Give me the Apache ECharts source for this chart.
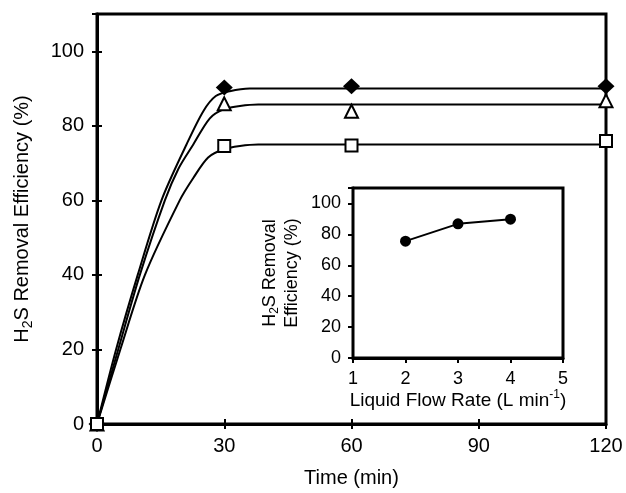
<!DOCTYPE html>
<html>
<head>
<meta charset="utf-8">
<script src="https://cdn.jsdelivr.net/npm/echarts@6/dist/echarts.min.js"></script>
<style>
html,body{margin:0;padding:0;background:#fff;}
#removal_chartID{width:626px;height:493px;}
</style>
</head>
<body>
<div id="removal_chartID"></div>
<script>
//主图：去除效率随时间变化
var timeArray=[0, 30, 60, 120];
var diamondArray=[0, 90.3, 90.6, 90.6];
var triangleArray=[0, 85.9, 83.9, 86.7];
var squareArray=[0, 74.6, 74.7, 75.9];
//拟合曲线
var diamondFitArray=[[0,0],[4.5,20],[9.6,40],[15.2,60],[21.1,75],[25.1,84],[28,88],[31.3,89.3],[36,90],[45,90],[120,90]];
var triangleFitArray=[[0,0],[5,20],[10.1,40],[16,60],[19.2,68.5],[22.7,75],[26.6,82],[29.8,84.4],[33.7,85.3],[38,85.7],[45,85.7],[120,85.7]];
var squareFitArray=[[0,0],[5.5,20],[11.3,40],[19.5,60],[22.7,66],[26.2,71.5],[29.8,73.7],[33.7,74.6],[38,75],[45,75],[120,75]];
//小图：液体流量
var flowArray=[2, 3, 4];
var flowEffArray=[75.6, 86.8, 89.8];

var fontName='"Liberation Sans", Arial, sans-serif';

function pairs(xs, ys){
	var out=[];
	for(var i=0;i<xs.length;i++){ out.push([xs[i], ys[i]]); }
	return out;
}
function hideAbove100(v){ return v>100 ? '' : String(v); }

function makeAxis(grid, min, max, step, pos, tickInside, showLine, showLabel, labelSize, margin){
	return {
		type:'value', gridIndex:grid, min:min, max:max, interval:step, position:pos,
		axisLine:{show:showLine, onZero:false, lineStyle:{color:'#000', width:3}},
		axisTick:{show:true, inside:tickInside, length:5, lineStyle:{color:'#000', width:2}},
		axisLabel:{show:showLabel, color:'#000', fontSize:labelSize, fontFamily:fontName, margin:margin},
		splitLine:{show:false}
	};
}

var removal_graphID=echarts.init(document.getElementById('removal_chartID'));

var xMain=makeAxis(0, 0, 120, 30, 'bottom', false, true, true, 20, 12);
xMain.name='Time (min)';
xMain.nameLocation='middle';
xMain.nameGap=44;
xMain.nameTextStyle={color:'#000', fontSize:20, fontFamily:fontName};

var yMain=makeAxis(0, 0, 110, 20, 'left', false, true, true, 20, 13);
yMain.axisLabel.formatter=hideAbove100;
yMain.name='{n|H}{s|2}{n|S Removal Efficiency (%)}';
yMain.nameLocation='middle';
yMain.nameRotate=90;
yMain.nameGap=62;
yMain.nameTextStyle={color:'#000', fontSize:20, fontFamily:fontName,
	rich:{n:{fontSize:20, fontFamily:fontName, color:'#000', lineHeight:26},
		s:{fontSize:14, fontFamily:fontName, color:'#000', lineHeight:26, verticalAlign:'bottom', padding:[10,0,0,0]}}};

var xInset=makeAxis(1, 1, 5, 1, 'bottom', false, true, true, 18, 12);
xInset.name='{n|Liquid Flow Rate (L min}{p|-1}{n|)}';
xInset.nameLocation='middle';
xInset.nameGap=30;
xInset.nameTextStyle={color:'#000', fontSize:19, fontFamily:fontName,
	rich:{n:{fontSize:19, fontFamily:fontName, color:'#000', lineHeight:24},
		p:{fontSize:12, fontFamily:fontName, color:'#000', lineHeight:24, verticalAlign:'top', padding:[0,0,8,0]}}};

var yInset=makeAxis(1, 0, 110, 20, 'left', false, true, true, 18, 12);
yInset.axisLabel.formatter=hideAbove100;
yInset.name='{n|H}{s|2}{n|S Removal}\n{n|Efficiency (%)}';
yInset.nameLocation='middle';
yInset.nameRotate=90;
yInset.nameGap=50;
yInset.nameTextStyle={color:'#000', fontSize:18, fontFamily:fontName,
	rich:{n:{fontSize:18, fontFamily:fontName, color:'#000', lineHeight:22},
		s:{fontSize:12, fontFamily:fontName, color:'#000', lineHeight:22, verticalAlign:'bottom', padding:[8,0,0,0]}}};

var yMainInner=makeAxis(0, 0, 110, 20, 'left', true, false, false, 20, 13);
var xMainInner=makeAxis(0, 0, 120, 30, 'bottom', true, false, false, 20, 12);
var xInsetInner=makeAxis(1, 1, 5, 1, 'bottom', true, false, false, 18, 12);

function fitLine(d){
	return {type:'line', xAxisIndex:0, yAxisIndex:0, data:d, smooth:0.3,
		showSymbol:false, silent:true, clip:false, lineStyle:{color:'#000', width:2}, z:2};
}
function markers(d, sym, size, fill){
	return {type:'line', xAxisIndex:0, yAxisIndex:0, data:d, symbol:sym, symbolSize:size,
		lineStyle:{width:0, opacity:0}, clip:false, z:5,
		itemStyle:{color:fill, borderColor:'#000', borderWidth:fill=='#000'?0:2, opacity:1}};
}

var option={
	animation:false,
	backgroundColor:'#fff',
	grid:[
		{left:97, right:20, top:14, bottom:65, show:true, borderColor:'#000', borderWidth:3, backgroundColor:'#fff'},
		{left:353, right:63, top:188, bottom:135, show:true, borderColor:'#000', borderWidth:3, backgroundColor:'#fff', z:3}
	],
	xAxis:[xMain, xMainInner, xInset, xInsetInner],
	yAxis:[yMain, yMainInner, yInset],
	series:[
		fitLine(diamondFitArray),
		fitLine(triangleFitArray),
		fitLine(squareFitArray),
		markers(pairs(timeArray, diamondArray), 'diamond', [17,16], '#000'),
		markers(pairs(timeArray, triangleArray), 'triangle', [13,13], '#fff'),
		markers(pairs(timeArray, squareArray), 'rect', [12,12], '#fff'),
		{
			type:'line', xAxisIndex:2, yAxisIndex:2, data:pairs(flowArray, flowEffArray),
			symbol:'circle', symbolSize:11, showSymbol:true, z:6,
			lineStyle:{color:'#000', width:2}, itemStyle:{color:'#000'}
		}
	]
};
removal_graphID.setOption(option);
</script>
</body>
</html>
